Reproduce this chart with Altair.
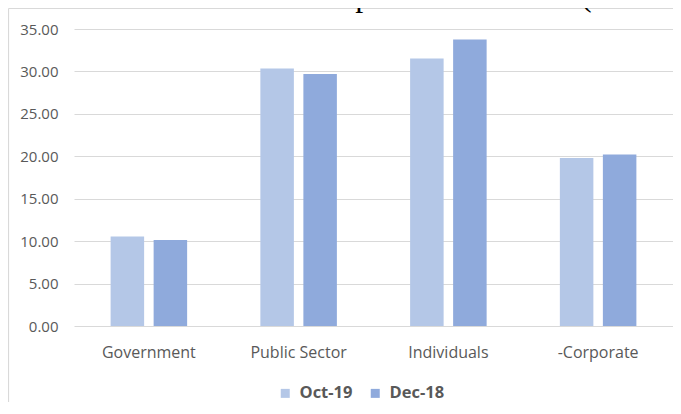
import altair as alt
import pandas as pd

categories = ["Government", "Public Sector", "Individuals", "-Corporate"]
series = ["Oct-19", "Dec-18"]
oct19 = [10.54, 30.34, 31.52, 19.80]
dec18 = [10.12, 29.70, 33.77, 20.22]
colors = ["#B4C7E7", "#8FAADC"]
y_ticks = [0, 5, 10, 15, 20, 25, 30, 35]
title_text = "Figure 24: Commercial Bank Deposit Breakdown (ETB bn)"

rows = []
for c, a, b in zip(categories, oct19, dec18):
    rows.append({"category": c, "series": series[0], "value": a})
    rows.append({"category": c, "series": series[1], "value": b})
df = pd.DataFrame(rows)

W, H = 599, 297
GRAY = "#595959"
GRID = "#D9D9D9"

bars = alt.Chart(df).mark_bar().encode(
    x=alt.X(
        "category:N",
        sort=categories,
        scale=alt.Scale(paddingInner=0.489, paddingOuter=0.2445),
        axis=alt.Axis(
            title=None, labelAngle=0, ticks=False, domain=False, grid=False,
            labelPadding=18, labelFontSize=16, labelColor=GRAY, labelFont="Open Sans",
        ),
    ),
    xOffset=alt.XOffset(
        "series:N", sort=series, scale=alt.Scale(paddingInner=0.221, paddingOuter=0)
    ),
    y=alt.Y(
        "value:Q",
        scale=alt.Scale(domain=[0, 35], nice=False, zero=True),
        axis=alt.Axis(
            title=None, values=y_ticks, format=".2f", ticks=False, domain=False,
            grid=True, gridColor=GRID, gridWidth=1, labelPadding=16,
            labelFontSize=15, labelColor=GRAY, labelFont="Open Sans",
        ),
    ),
    color=alt.Color(
        "series:N",
        sort=series,
        scale=alt.Scale(domain=series, range=colors),
        legend=alt.Legend(
            title=None, orient="none", legendX=203, legendY=356,
            direction="horizontal", symbolType="square", symbolSize=81,
            symbolStrokeWidth=0, labelFontSize=16.5, labelFontWeight="bold",
            labelColor=GRAY, labelFont="Open Sans", columnPadding=14, labelOffset=6,
        ),
    ),
)

frame_data = pd.DataFrame({"frame": [0]})
frame_left = alt.Chart(frame_data).mark_rule(color=GRID, strokeWidth=1.2).encode(
    x=alt.value(-65.5), y=alt.value(-20.5), y2=alt.value(H + 200),
)
frame_top = alt.Chart(frame_data).mark_rule(color=GRID, strokeWidth=1.2).encode(
    x=alt.value(-65.5), x2=alt.value(W + 20), y=alt.value(-20.5),
)

chart = alt.layer(frame_left, frame_top, bars).properties(
    width=W,
    height=H,
    title=alt.TitleParams(
        title_text, font="Liberation Serif", fontSize=32, fontWeight="normal",
        color="black", anchor="start", dx=-72, dy=9,
    ),
    autosize=alt.AutoSizeParams(type="none"),
    padding={"left": 66, "top": 21, "right": 0, "bottom": 76},
).configure_view(strokeWidth=0)

chart.save("out.html", embed_options={"renderer": "svg", "actions": False})
